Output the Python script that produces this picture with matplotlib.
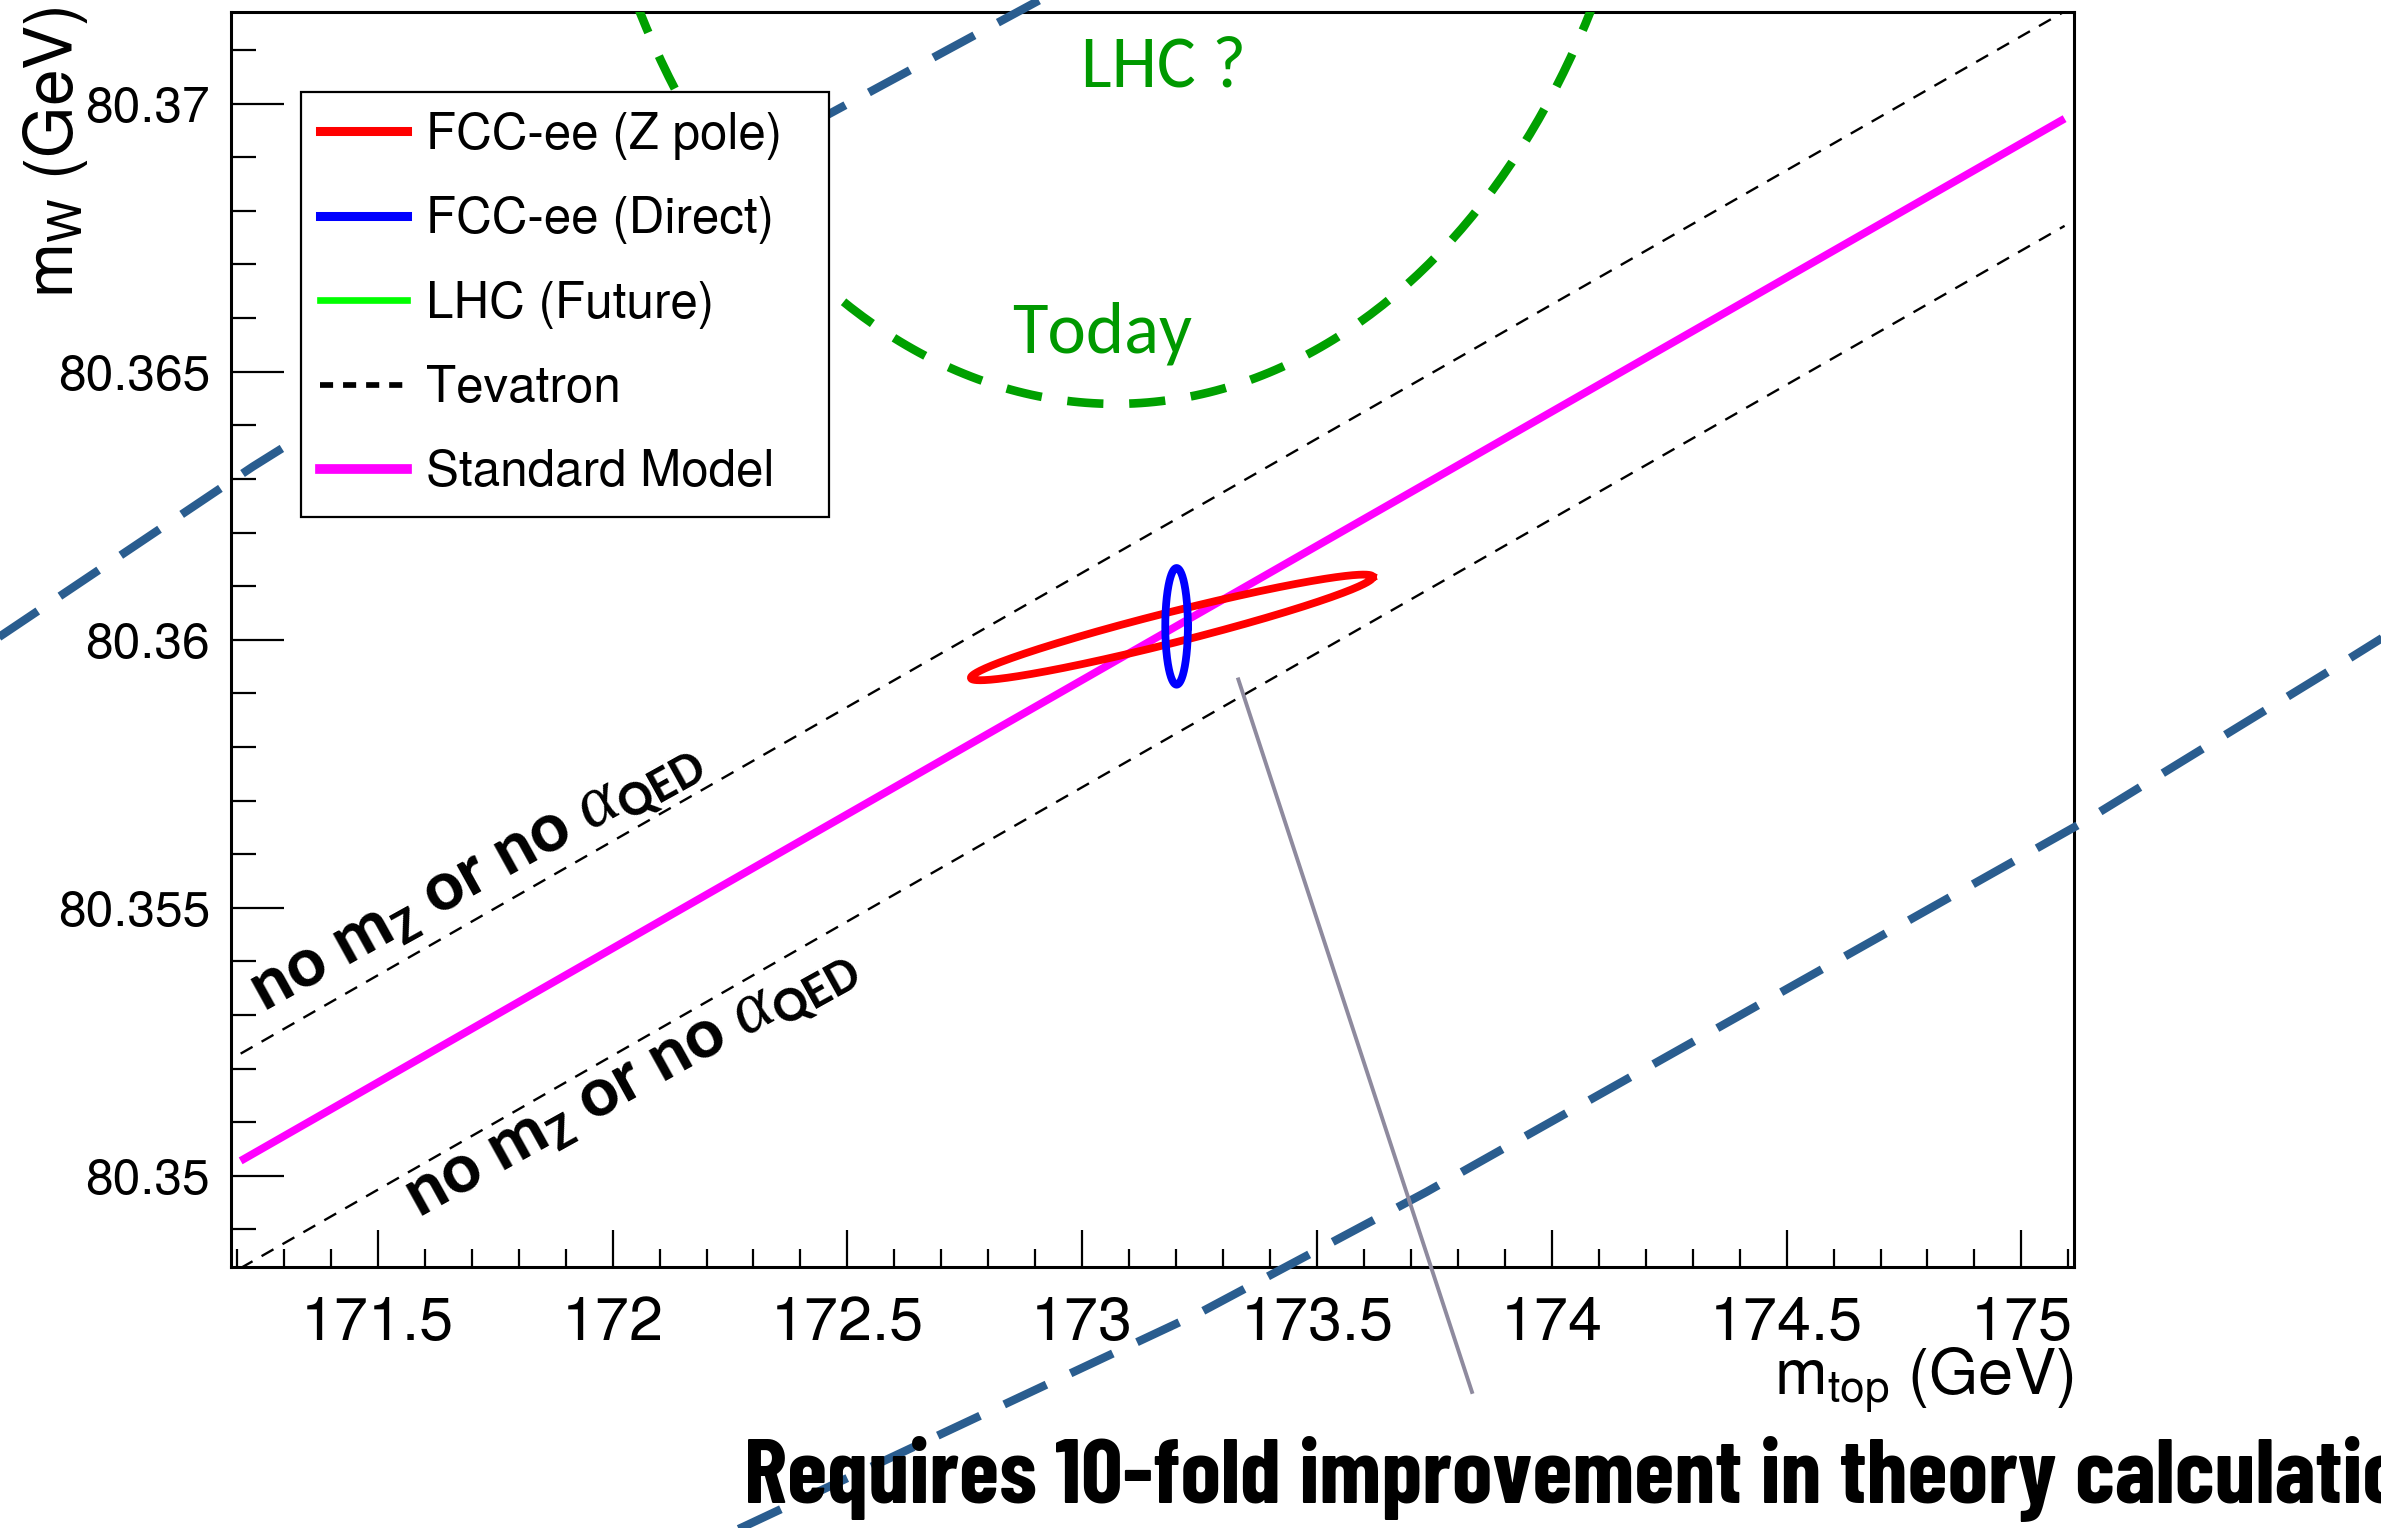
import numpy as np
import matplotlib
matplotlib.use("Agg")
from matplotlib import pyplot as plt
from matplotlib import font_manager as fm
from matplotlib.lines import Line2D
from matplotlib.ticker import MultipleLocator, FuncFormatter

# Standard Model prediction
sm_mtop = [171.208, 175.092]
sm_mw = [80.35028, 80.36972]
# shift of the SM line without m_Z or alpha_QED input
tevatron_shift = 0.002

# FCC-ee contours: centre (m_top, m_W), widths, correlation
zpole_centre = (173.191, 80.36023)
zpole_sigma = (0.428, 0.000985)
zpole_rho = 0.954

direct_centre = (173.201, 80.36025)
direct_sigma = (0.0241, 0.001088)
direct_rho = 0.0

# LHC contour, only its lower part lies inside the frame
lhc_centre = (173.07, 80.3787)
lhc_sigma = (1.16, 0.0143)
lhc_rho = 0.0

# today's contour edges, read along both arcs
today_upper_mtop = [170.652, 170.695, 171.234, 171.694, 172.335, 172.911, 172.953]
today_upper_mw = [80.35982, 80.36006, 80.36323, 80.36575, 80.36921, 80.37194, 80.37215]
today_lower_mtop = [172.186, 172.280, 173.251, 173.733, 175.128, 175.658, 175.808]
today_lower_mw = [80.34308, 80.34346, 80.34745, 80.34970, 80.35658, 80.35943, 80.36025]

# pointer from the contours to the caption
pointer_mtop = [173.3325, 173.83]
pointer_mw = [80.35926, 80.34597]

legend_labels = ["FCC-ee (Z pole)", "FCC-ee (Direct)", "LHC (Future)",
                 "Tevatron", "Standard Model"]


def contour(centre, sigma, rho, n=500):
    t = np.linspace(0, 2 * np.pi, n)
    x = centre[0] + sigma[0] * np.cos(t)
    y = centre[1] + sigma[1] * (rho * np.cos(t) + np.sqrt(1 - rho ** 2) * np.sin(t))
    return x, y


def first_font(candidates):
    installed = {f.name for f in fm.fontManager.ttflist}
    for name in candidates:
        if name in installed:
            return name
    return "DejaVu Sans"


sans = first_font(["TeX Gyre Heros", "Liberation Sans"])
note_font = first_font(["Carlito", "Open Sans"])
banner_font = first_font(["Barlow Condensed", "Roboto Condensed", "Archivo Narrow"])

plt.rcParams["font.family"] = [sans, "DejaVu Sans"]
plt.rcParams["mathtext.fontset"] = "custom"
plt.rcParams["mathtext.rm"] = sans
plt.rcParams["mathtext.it"] = "Liberation Serif:italic"
plt.rcParams["mathtext.bf"] = note_font + ":bold"

fig = plt.figure(figsize=(23.81, 15.28), dpi=100)
ax = fig.add_axes([0.09693, 0.17081, 0.77413, 0.82101])
ax.set_xlim(171.187, 175.112)
ax.set_ylim(80.3483, 80.3717)

for side in ["left", "bottom", "top", "right"]:
    ax.spines[side].set_linewidth(2.2)

ax.xaxis.set_major_locator(MultipleLocator(0.5))
ax.xaxis.set_minor_locator(MultipleLocator(0.1))
ax.yaxis.set_major_locator(MultipleLocator(0.005))
ax.yaxis.set_minor_locator(MultipleLocator(0.001))
fmt = FuncFormatter(lambda v, pos: f"{v:g}")
ax.xaxis.set_major_formatter(fmt)
ax.yaxis.set_major_formatter(fmt)
ax.tick_params(which="both", direction="in", top=False, right=False, width=1.6)
ax.tick_params(axis="x", which="major", length=27, labelsize=44, pad=20)
ax.tick_params(axis="x", which="minor", length=13)
ax.tick_params(axis="y", which="major", length=38, labelsize=35.8, pad=15)
ax.tick_params(axis="y", which="minor", length=18)

# SM line and the two shifted lines
sm_x = np.array(sm_mtop)
sm_y = np.array(sm_mw)
ax.plot(sm_x, sm_y + tevatron_shift, color="black", lw=1.7, ls=(0, (5.8, 4.4)))
ax.plot(sm_x, sm_y - tevatron_shift, color="black", lw=1.7, ls=(0, (5.8, 4.4)))
ax.plot(sm_x, sm_y, color="#ff00ff", lw=5.6, solid_capstyle="butt")

x, y = contour(zpole_centre, zpole_sigma, zpole_rho)
ax.plot(x, y, color="#ff0000", lw=5.6)
x, y = contour(direct_centre, direct_sigma, direct_rho)
ax.plot(x, y, color="#0000ff", lw=5.6)

x, y = contour(lhc_centre, lhc_sigma, lhc_rho)
ax.plot(x, y, color="#00a000", lw=6.2, ls=(0, (4.2, 3.0)), zorder=6)

ax.plot(today_upper_mtop, today_upper_mw, color="#2a5d8f", lw=6, ls=(0, (5.6, 3.2)),
        clip_on=False, zorder=6)
ax.plot(today_lower_mtop, today_lower_mw, color="#2a5d8f", lw=6, ls=(0, (5.6, 3.2)),
        clip_on=False, zorder=6)

ax.plot(pointer_mtop, pointer_mw, color="#8e8a9e", lw=2.8, clip_on=False, zorder=7)

handles = [
    Line2D([], [], color="#ff0000", lw=6.5),
    Line2D([], [], color="#0000ff", lw=6.5),
    Line2D([], [], color="#00ff00", lw=4.8),
    Line2D([], [], color="black", lw=4.1, ls=(0, (2.3, 1.75))),
    Line2D([], [], color="#ff00ff", lw=7),
]
leg = fig.legend(handles, legend_labels, loc="upper left",
                 bbox_to_anchor=(0.1263, 0.6636, 0.2219, 0.2763), mode="expand",
                 fontsize=35.5, frameon=True, fancybox=False, framealpha=1,
                 edgecolor="black", borderpad=0.4, handlelength=1.75,
                 handletextpad=0.39, labelspacing=0.74, borderaxespad=0)
leg.get_frame().set_linewidth(1.6)
leg.set_zorder(5)

# annotations along the shifted lines
note = r"no m$_{\mathbf{Z}}$ or no $\alpha_{\mathbf{QED}}$"
ax.text(171.257, 80.35305, note, family=note_font, weight="bold", fontsize=52.5,
        rotation=29, rotation_mode="anchor", ha="left", va="baseline")
ax.text(171.585, 80.34922, note, family=note_font, weight="bold", fontsize=52.5,
        rotation=29, rotation_mode="anchor", ha="left", va="baseline")

ax.text(173.1736, 80.37031, "LHC ?", family=note_font, fontsize=52.5,
        color="#009900", ha="center", va="baseline")
ax.text(173.0432, 80.36536, "Today", family=note_font, fontsize=52.5,
        color="#009900", ha="center", va="baseline")

fig.text(0.0231, 0.996, r"m$_{\mathrm{W}}$ (GeV)", fontsize=47.5, rotation=90,
         ha="center", va="top")
fig.text(0.8709, 0.0877, r"m$_{\mathrm{top}}$ (GeV)", fontsize=45.5,
         ha="right", va="baseline")

fig.text(0.3125, 0.0164, "Requires 10-fold improvement in theory calculation",
         family=banner_font, weight="bold", fontsize=66, ha="left", va="baseline")

fig.savefig("out.png", dpi=100)
